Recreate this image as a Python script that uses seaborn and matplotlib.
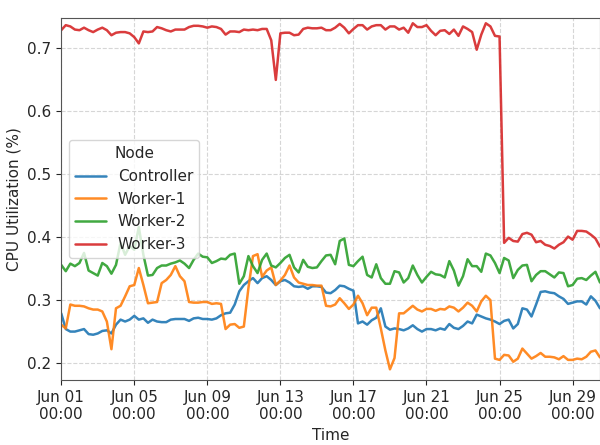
import pandas as pd
import seaborn as sns
import matplotlib.pyplot as plt
import matplotlib.dates as mdates

# Data: 6-hourly CPU utilization per node
nodes = ['Controller', 'Worker-1', 'Worker-2', 'Worker-3']
start = '2024-06-01 00:00'

controller = [
    .279, .254, .250, .250, .252, .254, .246, .245, .247, .251,
    .252, .247, .261, .269, .266, .269, .275, .269, .271, .264,
    .269, .266, .265, .265, .269, .270, .270, .270, .267, .271,
    .272, .270, .270, .269, .271, .276, .279, .280, .293, .314,
    .324, .330, .335, .327, .335, .338, .332, .324, .330, .332,
    .328, .322, .321, .322, .318, .322, .322, .321, .312, .311,
    .316, .323, .322, .318, .315, .263, .266, .261, .268, .272,
    .287, .258, .253, .255, .254, .252, .255, .260, .254, .250,
    .254, .254, .252, .255, .253, .262, .256, .254, .259, .266,
    .263, .277, .274, .271, .269, .266, .262, .267, .269, .255,
    .262, .287, .285, .274, .293, .313, .314, .312, .311, .306,
    .302, .294, .296, .298, .298, .293, .306, .299, .287,
]
worker1 = [
    .261, .255, .293, .291, .291, .290, .287, .285, .285, .282,
    .266, .222, .287, .291, .306, .322, .324, .351, .324, .295,
    .296, .297, .327, .332, .340, .354, .338, .330, .297, .296,
    .296, .297, .297, .294, .295, .294, .254, .261, .262, .256,
    .258, .319, .370, .373, .337, .347, .352, .324, .331, .340,
    .355, .336, .328, .326, .324, .324, .323, .323, .291, .290,
    .293, .303, .295, .286, .293, .307, .295, .276, .288, .288,
    .255, .220, .190, .208, .279, .279, .285, .291, .285, .282,
    .286, .286, .283, .286, .285, .290, .288, .282, .288, .296,
    .291, .282, .298, .307, .300, .207, .205, .213, .212, .202,
    .207, .223, .215, .207, .211, .216, .210, .210, .209, .206,
    .211, .205, .205, .207, .206, .210, .218, .220, .209,
]
worker2 = [
    .356, .346, .358, .354, .359, .375, .347, .343, .339, .359,
    .354, .342, .356, .391, .372, .386, .380, .416, .372, .339,
    .340, .351, .355, .355, .358, .360, .363, .358, .351, .364,
    .374, .369, .368, .359, .362, .366, .365, .372, .374, .326,
    .338, .370, .354, .343, .364, .374, .355, .352, .359, .367,
    .372, .352, .344, .364, .353, .351, .352, .362, .371, .372,
    .357, .394, .398, .356, .354, .362, .369, .340, .336, .357,
    .335, .326, .326, .346, .344, .328, .335, .355, .340, .328,
    .337, .345, .341, .340, .336, .362, .347, .323, .338, .365,
    .354, .354, .345, .374, .371, .359, .343, .367, .363, .335,
    .348, .355, .356, .330, .340, .346, .346, .341, .336, .344,
    .343, .322, .324, .334, .335, .332, .339, .345, .328,
]
worker3 = [
    .729, .737, .735, .730, .729, .733, .729, .726, .730, .733,
    .729, .721, .725, .726, .726, .724, .718, .708, .727, .726,
    .727, .734, .732, .729, .727, .730, .730, .730, .734, .736,
    .736, .735, .733, .735, .734, .731, .722, .727, .727, .726,
    .730, .729, .730, .729, .731, .731, .713, .650, .724, .725,
    .725, .721, .722, .731, .733, .732, .732, .733, .729, .729,
    .733, .739, .733, .724, .731, .737, .737, .730, .735, .737,
    .737, .730, .735, .735, .730, .733, .725, .740, .734, .734,
    .737, .728, .721, .728, .729, .723, .730, .720, .735, .731,
    .726, .698, .722, .740, .735, .720, .719, .391, .399, .394,
    .393, .405, .407, .404, .392, .394, .388, .386, .382, .388,
    .392, .401, .396, .410, .410, .409, .404, .398, .385,
]

times = pd.date_range(start, periods=len(controller), freq='6h')
df = pd.concat([
    pd.DataFrame({'Time': times, 'CPU': vals, 'Node': name})
    for name, vals in zip(nodes, [controller, worker1, worker2, worker3])
])

sns.set_style('ticks')
plt.rcParams.update({'font.size': 11, 'xtick.labelsize': 11,
                     'ytick.labelsize': 11, 'axes.labelsize': 11,
                     'legend.fontsize': 11, 'legend.title_fontsize': 11})
fig = plt.figure(figsize=(6, 4.45), dpi=100)
ax = fig.add_axes([0.102, 0.146, 0.898, 0.813])

sns.lineplot(data=df, x='Time', y='CPU', hue='Node', linewidth=1.8, alpha=0.9, ax=ax)

ax.set_xlim(times[0], times[-1])
ax.set_ylim(0.173, 0.748)
ax.xaxis.set_major_locator(mdates.DayLocator(bymonthday=[1, 5, 9, 13, 17, 21, 25, 29]))
ax.xaxis.set_major_formatter(mdates.DateFormatter('%b %d\n%H:%M'))
ax.grid(True, linestyle='--', color='#cccccc', alpha=0.8)
for s in ax.spines.values():
    s.set_color('#555555')
ax.set_xlabel('Time')
ax.set_ylabel('CPU Utilization (%)')
ax.legend(title='Node', loc='center left')

plt.savefig('out.png', dpi=100)
plt.close()
